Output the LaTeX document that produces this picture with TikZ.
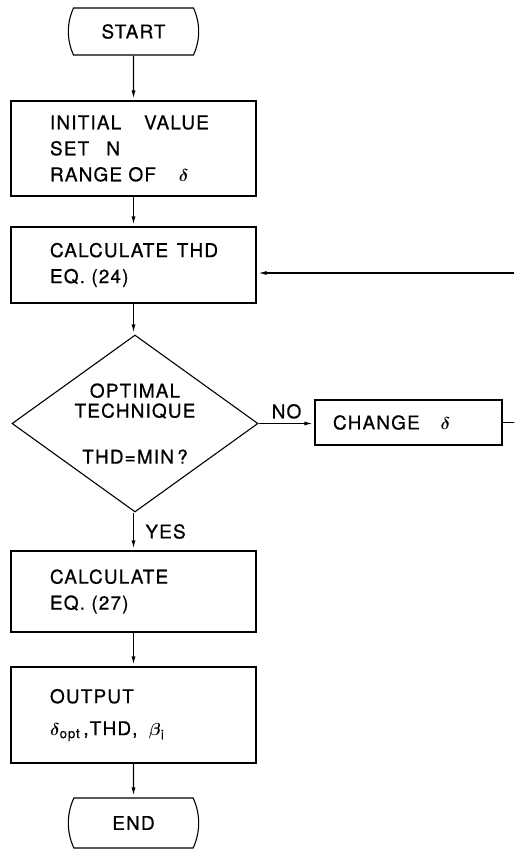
\documentclass[tikz,border=0pt]{standalone}
\usepackage{amsmath}
\usepackage{fontspec}
\setmainfont{TeX Gyre Heros}[LetterSpace=6,FakeBold=0.6]
\usetikzlibrary{shapes.geometric,shapes.misc,arrows.meta}

\tikzset{
  stepbox/.style={draw, rectangle, minimum width=245pt, text width=167pt, inner xsep=39pt,
    align=left, font=\fontsize{19}{26}\selectfont},
  term/.style={draw, rounded rectangle, rounded rectangle arc length=50, minimum width=137pt,
    minimum height=47pt, font=\fontsize{19}{20}\selectfont},
  test/.style={draw, diamond, aspect=1.39, minimum width=246pt, minimum height=177pt,
    inner sep=0pt, align=center, font=\fontsize{19}{20}\selectfont},
  flowline/.style={-{Latex[length=8pt,width=4pt]}, shorten >=2pt},
  tag/.style={font=\fontsize{19}{20}\selectfont}
}

\begin{document}
\begin{tikzpicture}[x=1pt,y=-1pt,line width=1.1pt]
\useasboundingbox (0,0) rectangle (514,850);
\clip (0,0) rectangle (514,850);
\node[term] (start) at (133.5,31.5) {START};
\node[stepbox, minimum height=95pt] (init) at (133.5,148.5) {\mbox{INITIAL\hspace{1.2em}VALUE}\\ \mbox{SET\hspace{0.9em}N}\\ \mbox{RANGE OF\hspace{1.2em}$\boldsymbol{\delta}$}};
\node[stepbox, minimum height=76pt] (calcthd) at (133.5,265) {\mbox{CALCULATE\hspace{0.45em}THD}\\ \mbox{EQ. (24)}};
\node[test] (optim) at (135,423.5) {OPTIMAL\\ TECHNIQUE\\[26pt] THD=MIN\,?};
\node[draw, rectangle, minimum width=187pt, minimum height=45pt, text width=151pt, inner xsep=18pt, align=left, font=\fontsize{19}{20}\selectfont] (change) at (408.5,422.5) {\mbox{CHANGE\hspace{1.1em}$\boldsymbol{\delta}$}};
\node[stepbox, minimum height=81pt] (calceq) at (133.5,591.5) {\mbox{CALCULATE}\\ \mbox{EQ. (27)}};
\node[stepbox, minimum height=96pt] (output) at (133.5,715) {\mbox{OUTPUT}\\[6pt] \mbox{$\boldsymbol{\delta}_{\text{opt}}$\,,THD,\hspace{0.6em}$\boldsymbol{\beta}_{\text{i}}$}};
\node[term, minimum height=50pt] (stop) at (133.5,823) {END};
\coordinate (back) at (530,273);

\draw[flowline] (start) -- (init);
\draw[flowline] (init) -- (calcthd);
\draw[flowline] (calcthd) -- (optim.north -| calcthd);
\draw[flowline] (optim.south -| calceq) -- node[tag, right=8pt] {YES} (calceq);
\draw[flowline] (optim.east) -- node[tag, above=1pt] {NO} (change.west |- optim.east);
\draw[flowline] (change.east) -| (back) -- (calcthd.east |- back);
\draw[flowline] (calceq) -- (output);
\draw[flowline] (output) -- (stop);
\end{tikzpicture}
\end{document}
